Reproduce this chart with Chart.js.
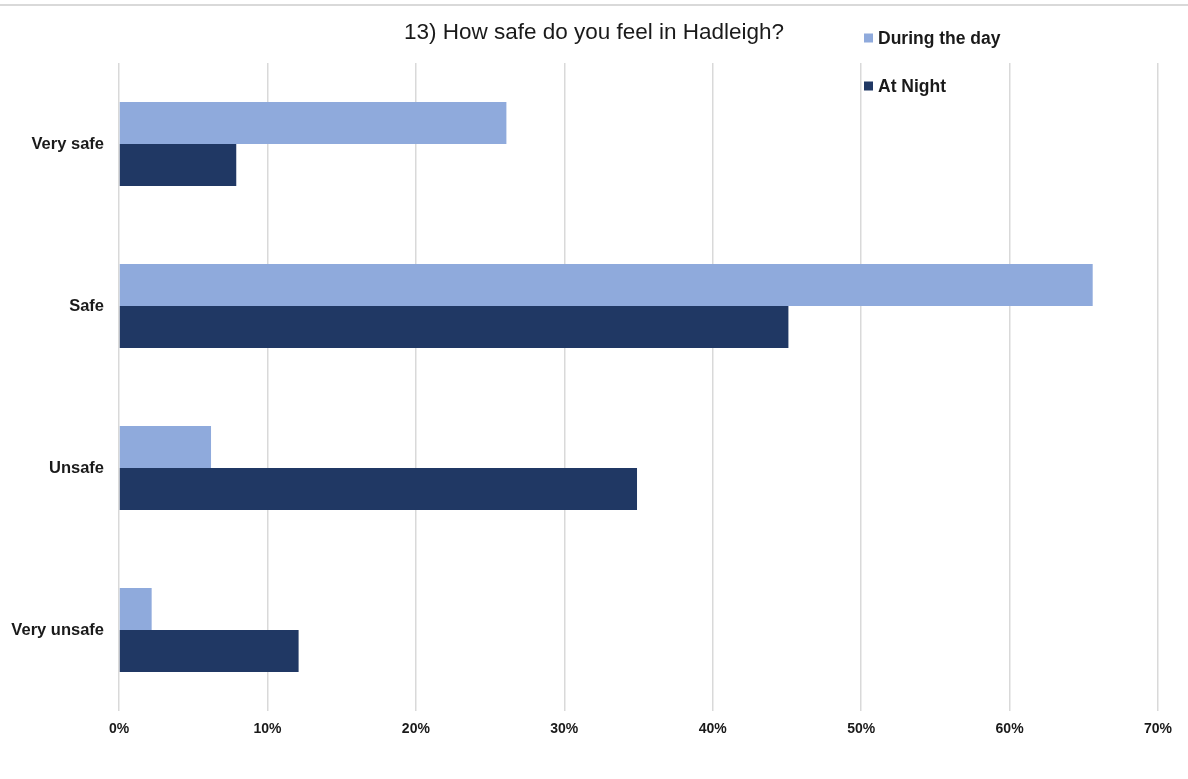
<!DOCTYPE html>
<html>
<head>
<meta charset="utf-8">
<style>
  html, body { margin: 0; padding: 0; background: #fff; }
  #wrap { width: 1188px; height: 779px; position: relative; }
</style>
<script src="https://cdn.jsdelivr.net/npm/chart.js@4/dist/chart.umd.min.js"></script>
</head>
<body>
<div id="wrap"><canvas id="chart" width="1188" height="779"></canvas></div>
<script>
const categories = ['Very safe', 'Safe', 'Unsafe', 'Very unsafe'];
const dayValues = [26.1, 65.6, 6.2, 2.2];
const nightValues = [7.9, 45.1, 34.9, 12.1];
const seriesNames = ['During the day', 'At Night'];
const seriesColors = ['#8faadc', '#203864'];
const chartTitle = '13) How safe do you feel in Hadleigh?';

const font = 'Arial, "Liberation Sans", sans-serif';

// title, top rule and the stacked legend at the top right
const decorations = {
  id: 'decorations',
  afterDraw(chart) {
    const ctx = chart.ctx;
    ctx.save();
    ctx.fillStyle = '#d9d9d9';
    ctx.fillRect(0, 4, chart.width, 2);

    ctx.fillStyle = '#1a1a1a';
    ctx.font = '22.5px ' + font;
    ctx.textAlign = 'center';
    ctx.textBaseline = 'middle';
    ctx.fillText(chartTitle, chart.width / 2, 33);

    ctx.font = 'bold 17.5px ' + font;
    ctx.textAlign = 'left';
    chart.data.datasets.forEach((ds, i) => {
      const y = 38 + i * 48;
      ctx.fillStyle = ds.backgroundColor;
      ctx.fillRect(864, y - 4.5, 9, 9);
      ctx.fillStyle = '#1a1a1a';
      ctx.fillText(ds.label, 878, y + 1);
    });
    ctx.restore();
  }
};

new Chart(document.getElementById('chart'), {
  type: 'bar',
  data: {
    labels: categories,
    datasets: [
      { label: seriesNames[0], data: dayValues, backgroundColor: seriesColors[0] },
      { label: seriesNames[1], data: nightValues, backgroundColor: seriesColors[1] }
    ]
  },
  options: {
    indexAxis: 'y',
    responsive: false,
    animation: false,
    layout: { padding: { top: 63, right: 30, left: 0, bottom: 0 } },
    datasets: {
      bar: { barPercentage: 1, categoryPercentage: 0.52 }
    },
    plugins: {
      legend: { display: false },
      title: { display: false },
      tooltip: { enabled: false }
    },
    scales: {
      x: {
        min: 0,
        max: 70,
        ticks: {
          stepSize: 10,
          padding: 10,
          color: '#1a1a1a',
          font: { family: font, size: 14, weight: 'bold' },
          callback: (v) => v + '%'
        },
        grid: { color: '#d9d9d9', lineWidth: 1.5, drawTicks: false },
        border: { display: false },
        afterFit: (scale) => { scale.height = 68; }
      },
      y: {
        ticks: {
          padding: 15,
          color: '#1a1a1a',
          font: { family: font, size: 16.5, weight: 'bold' }
        },
        grid: { display: false, drawTicks: false },
        border: { display: false },
        afterFit: (scale) => { scale.width = 119; }
      }
    }
  },
  plugins: [decorations]
});
</script>
</body>
</html>
